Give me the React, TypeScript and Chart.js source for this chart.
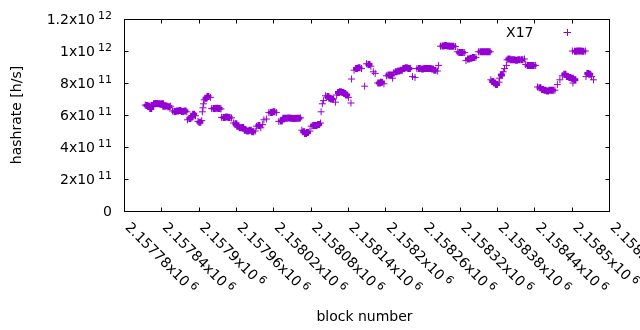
import React, { useEffect, useRef } from 'react';
import { Chart, registerables } from 'chart.js';

Chart.register(...registerables);

// ---- data ----
const seriesName = 'X17';
const xTitle = 'block number';
const yTitle = 'hashrate [h/s]';

const blocks = [
  2157814, 2157817, 2157820, 2157823, 2157825,
  2157829, 2157832, 2157836, 2157839, 2157842,
  2157844, 2157848, 2157852, 2157855,
  2157858, 2157862, 2157866, 2157870, 2157874, 2157878, 2157881,
  2157882, 2157886, 2157889, 2157892, 2157895, 2157899, 2157902, 2157905,
  2157906, 2157907, 2157908, 2157909,
  2157912, 2157915, 2157919,
  2157921, 2157925, 2157929, 2157933, 2157936,
  2157937, 2157941, 2157945, 2157949, 2157953,
  2157956, 2157960, 2157963, 2157967, 2157971,
  2157975, 2157979, 2157983, 2157987, 2157991,
  2157993, 2157997, 2158000, 2158003,
  2158005, 2158009,
  2158013, 2158017, 2158021, 2158025,
  2158029, 2158033,
  2158037, 2158041, 2158045, 2158049, 2158053, 2158057, 2158061, 2158064,
  2158066, 2158069, 2158072, 2158075, 2158079,
  2158081, 2158085, 2158089, 2158093,
  2158096, 2158097, 2158099,
  2158101, 2158104, 2158108, 2158111, 2158114, 2158117, 2158120, 2158122,
  2158125, 2158128, 2158132, 2158135, 2158138, 2158141, 2158145, 2158146,
  2158150, 2158154, 2158158, 2158162, 2158167,
  2158170, 2158174, 2158177,
  2158181, 2158184,
  2158188, 2158191, 2158194, 2158198,
  2158202, 2158206, 2158210, 2158212,
  2158214, 2158218, 2158222, 2158226, 2158230, 2158234, 2158238, 2158241,
  2158244, 2158248,
  2158251, 2158255, 2158260, 2158264, 2158268, 2158272, 2158276, 2158280, 2158284, 2158286,
  2158289, 2158293, 2158297, 2158301, 2158305, 2158309, 2158313,
  2158316, 2158320, 2158324, 2158328,
  2158330, 2158334, 2158338, 2158342, 2158346,
  2158350, 2158354, 2158358, 2158362, 2158366, 2158369,
  2158370, 2158373, 2158376, 2158379, 2158383,
  2158384, 2158387, 2158390, 2158392, 2158395,
  2158396, 2158399, 2158403, 2158407, 2158411, 2158415, 2158420, 2158424,
  2158426, 2158430, 2158434, 2158438, 2158442,
  2158445, 2158449, 2158453, 2158457, 2158461, 2158465, 2158469, 2158473,
  2158477,
  2158481, 2158485, 2158489, 2158493, 2158497, 2158501, 2158505, 2158502,
  2158501, 2158506, 2158510, 2158514, 2158518, 2158522,
  2158523, 2158526, 2158529, 2158532, 2158535,
];

// hashrate in units of 1e11 h/s
const hashrateE11 = [
  6.62, 6.60, 6.55, 6.40, 6.60,
  6.70, 6.72, 6.70, 6.68, 6.70,
  6.55, 6.56, 6.52, 6.55,
  6.25, 6.22, 6.25, 6.28, 6.22, 6.25, 6.20,
  5.70, 5.78, 5.88, 6.05, 5.95, 5.60, 5.55, 5.65,
  6.20, 6.45, 6.70, 6.95,
  7.05, 7.15, 7.10,
  6.40, 6.40, 6.42, 6.40, 6.38,
  5.85, 5.85, 5.88, 5.85, 5.82,
  5.50, 5.45, 5.30, 5.20, 5.22,
  5.05, 5.00, 5.05, 4.95, 5.00,
  5.30, 5.35, 5.20, 5.40,
  5.70, 5.75,
  6.15, 6.15, 6.20, 6.15,
  5.60, 5.62,
  5.80, 5.80, 5.82, 5.80, 5.78, 5.80, 5.80, 5.82,
  5.05, 4.95, 4.85, 4.90, 5.00,
  5.30, 5.35, 5.35, 5.40,
  5.50, 6.20, 6.70,
  6.90, 7.20, 7.15, 7.05, 7.00, 7.00, 6.80, 7.25,
  7.40, 7.45, 7.40, 7.35, 7.25, 7.10, 6.75, 8.25,
  8.80, 8.90, 8.95, 8.90, 7.80,
  9.20, 9.15, 9.05,
  8.70, 8.60,
  8.00, 8.00, 8.05, 7.95,
  8.45, 8.50, 8.50, 8.30,
  8.65, 8.70, 8.75, 8.80, 8.90, 8.95, 8.90, 8.90,
  8.40, 8.35,
  8.90, 8.90, 8.88, 8.90, 8.90, 8.90, 8.88, 8.80, 8.75, 9.10,
  10.30, 10.32, 10.35, 10.32, 10.30, 10.30, 10.28,
  9.95, 9.90, 9.90, 9.90,
  9.40, 9.50, 9.55, 9.60, 9.60,
  9.95, 9.95, 9.95, 9.95, 9.95, 9.95,
  8.20, 8.10, 8.00, 7.90, 8.05,
  8.30, 8.50, 8.70, 8.90, 9.10,
  9.45, 9.50, 9.45, 9.45, 9.42, 9.45, 9.45, 9.50,
  9.15, 9.10, 9.10, 9.10, 9.10,
  7.75, 7.70, 7.60, 7.55, 7.50, 7.55, 7.55, 7.55,
  7.90,
  8.20, 8.45, 8.55, 8.40, 8.35, 8.30, 8.20, 8.00,
  10.00, 9.98, 10.00, 10.00, 9.98, 10.00,
  8.40, 8.60, 8.55, 8.40, 8.20,
];

const xMin = 2157780;
const xMax = 2158560;
const xTickValues = [
  2157780, 2157840, 2157900, 2157960, 2158020, 2158080, 2158140,
  2158200, 2158260, 2158320, 2158380, 2158440, 2158500, 2158560,
];
const xTickMantissa = [
  '2.15778', '2.15784', '2.1579', '2.15796', '2.15802', '2.15808', '2.15814',
  '2.1582', '2.15826', '2.15832', '2.15838', '2.15844', '2.1585', '2.15856',
];
const xTickExponent = '6';

const yMin = 0;
const yMax = 1.2e12;
const yTickValues = [0, 2e11, 4e11, 6e11, 8e11, 1e12, 1.2e12];
const yTickMantissa = ['0', '2', '4', '6', '8', '1', '1.2'];
const yTickExponent = ['', '11', '11', '11', '11', '12', '12'];

const COLOR = '#9400D3';
const FONT = '14px "DejaVu Sans"';
const SUP_FONT = '11px "DejaVu Sans"';
const SUP_GAP = 3;

function drawSci(ctx: CanvasRenderingContext2D, mant: string, exp: string, x: number, y: number) {
  ctx.font = FONT;
  const main = exp ? mant + 'x10' : mant;
  ctx.fillText(main, x, y);
  if (exp) {
    const w = ctx.measureText(main).width;
    ctx.font = SUP_FONT;
    ctx.fillText(exp, x + w + SUP_GAP, y - 5);
  }
}

function sciWidth(ctx: CanvasRenderingContext2D, mant: string, exp: string) {
  ctx.font = FONT;
  const main = exp ? mant + 'x10' : mant;
  let w = ctx.measureText(main).width;
  if (exp) {
    ctx.font = SUP_FONT;
    w += SUP_GAP + ctx.measureText(exp).width;
  }
  return w;
}

// thicker strokes where crosses of a run overlap (so runs look solid like the reference)
function crossWidth(c: any) {
  const i = c.dataIndex;
  if (i === undefined) return 1;
  const near = (j: number) =>
    j >= 0 && j < blocks.length &&
    Math.abs(blocks[j] - blocks[i]) <= 5 &&
    Math.abs(hashrateE11[j] - hashrateE11[i]) < 0.2;
  return near(i - 1) && near(i + 1) ? 3 : 1;
}

const gnuplotFrame = {
  id: 'gnuplotFrame',
  afterDraw(chart: any) {
    const { ctx, chartArea: a, scales } = chart;
    const xs = scales.x;
    const ys = scales.y;
    ctx.save();
    ctx.strokeStyle = '#000';
    ctx.lineWidth = 1;
    ctx.beginPath();
    yTickValues.forEach((v) => {
      const y = Math.round(ys.getPixelForValue(v)) + 0.5;
      ctx.moveTo(a.left, y);
      ctx.lineTo(a.left + 4.5, y);
      ctx.moveTo(a.right + 1, y);
      ctx.lineTo(a.right - 3.5, y);
    });
    xTickValues.forEach((v) => {
      const x = Math.round(xs.getPixelForValue(v)) + 0.5;
      ctx.moveTo(x, a.bottom + 1);
      ctx.lineTo(x, a.bottom - 3.5);
      ctx.moveTo(x, a.top);
      ctx.lineTo(x, a.top + 4.5);
    });
    ctx.stroke();
    ctx.strokeRect(a.left + 0.5, a.top + 0.5, a.right - a.left, a.bottom - a.top);

    ctx.fillStyle = '#000';
    ctx.textAlign = 'left';
    ctx.textBaseline = 'alphabetic';

    yTickValues.forEach((v, i) => {
      const y = ys.getPixelForValue(v);
      const w = sciWidth(ctx, yTickMantissa[i], yTickExponent[i]);
      drawSci(ctx, yTickMantissa[i], yTickExponent[i], 112 - w, y + 5.3);
    });

    xTickValues.forEach((v, i) => {
      const x = xs.getPixelForValue(v);
      ctx.save();
      ctx.translate(x + 0.5, a.bottom + 17);
      ctx.rotate(Math.PI / 4);
      drawSci(ctx, xTickMantissa[i], xTickExponent, 0, 0);
      ctx.restore();
    });

    ctx.font = FONT;
    ctx.textAlign = 'center';
    ctx.fillText(xTitle, (a.left + a.right) / 2 - 2, 321);
    ctx.save();
    ctx.translate(20.5, (a.top + a.bottom) / 2);
    ctx.rotate(-Math.PI / 2);
    ctx.fillText(yTitle, 0, 0);
    ctx.restore();

    ctx.textAlign = 'right';
    ctx.fillText(seriesName, 533.5, 36.5);
    ctx.strokeStyle = COLOR;
    ctx.beginPath();
    ctx.moveTo(563.5, 32.5);
    ctx.lineTo(571, 32.5);
    ctx.moveTo(567.5, 29);
    ctx.lineTo(567.5, 36);
    ctx.stroke();
    ctx.restore();
  },
};

export default function App() {
  const ref = useRef<HTMLCanvasElement | null>(null);
  useEffect(() => {
    if (!ref.current) return;
    const data = blocks.map((b, i) => ({ x: b, y: hashrateE11[i] * 1e11 }));
    const chart = new Chart(ref.current, {
      type: 'scatter',
      data: {
        datasets: [
          {
            label: seriesName,
            data,
            pointStyle: 'cross',
            pointRadius: 3.5,
            pointBorderWidth: crossWidth,
            pointBorderColor: COLOR,
            pointBackgroundColor: COLOR,
            borderColor: COLOR,
            backgroundColor: COLOR,
            showLine: false,
          } as any,
        ],
      },
      options: {
        animation: false,
        responsive: false,
        devicePixelRatio: 1,
        events: [],
        layout: { padding: { left: 124, top: 19, right: 31, bottom: 119 } },
        plugins: { legend: { display: false }, tooltip: { enabled: false } },
        scales: {
          x: { type: 'linear', min: xMin, max: xMax, display: false },
          y: { type: 'linear', min: yMin, max: yMax, display: false },
        },
      },
      plugins: [gnuplotFrame],
    });
    return () => chart.destroy();
  }, []);
  return (
    <div style={{ position: 'absolute', left: 0, top: 0, width: 640, height: 330, background: '#fff' }}>
      <canvas ref={ref} width={640} height={330} style={{ display: 'block', width: 640, height: 330 }} />
    </div>
  );
}
